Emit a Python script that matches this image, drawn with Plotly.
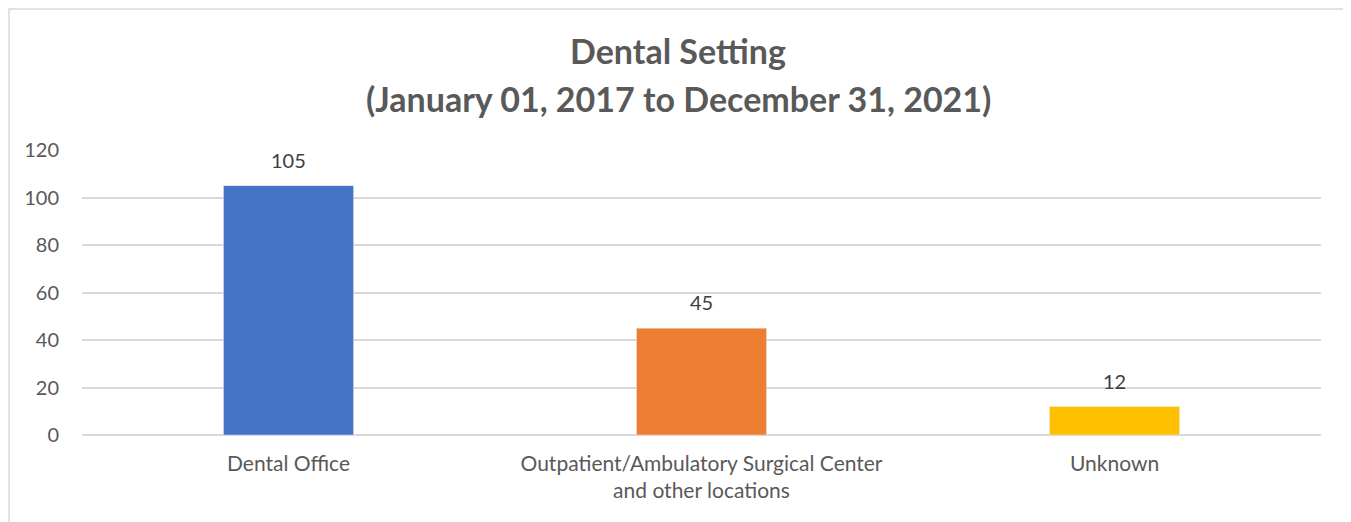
import plotly.graph_objects as go

categories = ["Dental Office", "Outpatient/Ambulatory Surgical Center<br>and other locations", "Unknown"]
values = [105, 45, 12]
colors = ["#4472C4", "#ED7D31", "#FFC000"]
y_ticks = [0, 20, 40, 60, 80, 100, 120]
title_lines = ["Dental Setting", "(January 01, 2017 to December 31, 2021)"]

# page has an 8px body margin; figure coords = page coords - 8
OFF = 8
W, H = 1343, 514
L, R, T, B = 74, 30, 142, 87
pw, ph = W - L - R, H - T - B

fig = go.Figure(go.Bar(
    x=categories, y=values, marker_color=colors, width=0.315,
    cliponaxis=False, hoverinfo="x+y",
))

def px_x(p):
    return (p - OFF - L) / pw

def px_y(p):
    return (H - B - (p - OFF)) / ph

annotations = [
    dict(text="<b>%s</b>" % title_lines[0], xref="paper", yref="paper", x=px_x(678), y=px_y(50),
         showarrow=False, xanchor="center", yanchor="middle", font=dict(family="Lato", size=34, color="#595959")),
    dict(text="<b>%s</b>" % title_lines[1], xref="paper", yref="paper", x=px_x(678), y=px_y(98),
         showarrow=False, xanchor="center", yanchor="middle", font=dict(family="Lato", size=34, color="#595959")),
]
for c, v in zip(categories, values):
    annotations.append(dict(x=c, y=v, xref="x", yref="y", text=str(v), showarrow=False,
                            yanchor="middle", yshift=26,
                            font=dict(family="Lato", size=20, color="#404040")))

fig.update_layout(
    width=W, height=H,
    margin=dict(l=L, r=R, t=T, b=B),
    paper_bgcolor="white", plot_bgcolor="white",
    showlegend=False,
    font=dict(family="Lato", color="#595959"),
    xaxis=dict(showgrid=False, showline=False, ticks="", ticklabelstandoff=14,
               tickfont=dict(size=21, color="#595959")),
    yaxis=dict(range=[0, 120], tickvals=y_ticks, showgrid=True, gridcolor="#D9D9D9", gridwidth=1.5,
               zeroline=True, zerolinecolor="#D9D9D9", zerolinewidth=1.5,
               showline=False, ticks="", ticklabelstandoff=22, tickfont=dict(size=20, color="#595959")),
    annotations=annotations,
    shapes=[dict(type="rect", xref="paper", yref="paper", x0=px_x(9), x1=px_x(1344.5), y0=px_y(540), y1=px_y(9),
                 line=dict(color="#D9D9D9", width=1.5), fillcolor="rgba(0,0,0,0)", layer="below")],
    bargap=0.685,
)

fig.write_html("out.html")
